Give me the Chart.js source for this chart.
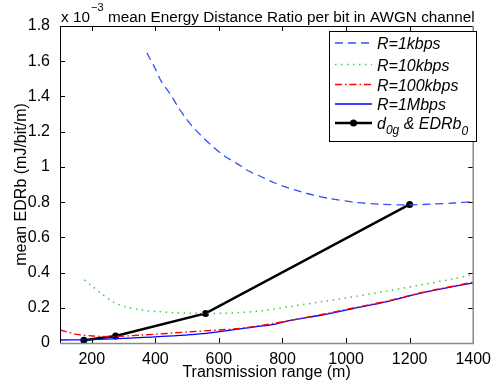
<!DOCTYPE html>
<html>
<head>
<meta charset="utf-8">
<script src="https://cdn.jsdelivr.net/npm/chart.js@4/dist/chart.umd.min.js"></script>
<style>
html,body{margin:0;padding:0;background:#fff;}
#c{display:block;}
</style>
</head>
<body>
<canvas id="c" width="498" height="387"></canvas>
<script>
// ---- data (values in units of 1e-3 mJ/bit/m) ----
const xTicks = [200, 400, 600, 800, 1000, 1200, 1400];
const yTicks = [0, 0.2, 0.4, 0.6, 0.8, 1.0, 1.2, 1.4, 1.6, 1.8];

const d1k = [373, 399, 419, 445, 471, 496, 522, 553, 584, 617, 656, 692, 733, 774, 816, 857, 898, 944, 1027, 1109, 1191, 1274, 1340, 1400];
const v1k = [1.648, 1.560, 1.484, 1.418, 1.342, 1.276, 1.219, 1.162, 1.111, 1.062, 1.020, 0.978, 0.944, 0.910, 0.882, 0.859, 0.840, 0.822, 0.799, 0.788, 0.784, 0.789, 0.795, 0.803];

const d10k = [177, 203, 229, 265, 306, 357, 409, 460, 512, 615, 718, 821, 924, 1026, 1129, 1232, 1335, 1400];
const v10k = [0.358, 0.320, 0.282, 0.235, 0.206, 0.187, 0.178, 0.172, 0.169, 0.169, 0.180, 0.206, 0.235, 0.263, 0.295, 0.329, 0.363, 0.389];

const d100k = [100, 152, 203, 254, 357, 512, 666, 774, 924, 1026, 1129, 1232, 1335, 1400];
const v100k = [0.074, 0.049, 0.040, 0.036, 0.045, 0.064, 0.083, 0.112, 0.162, 0.200, 0.238, 0.284, 0.322, 0.345];

const d1M = [100, 200, 300, 409, 560, 718, 774, 821, 924, 1026, 1129, 1232, 1335, 1400];
const v1M = [0.017, 0.019, 0.026, 0.036, 0.055, 0.093, 0.106, 0.127, 0.159, 0.197, 0.235, 0.282, 0.320, 0.341];

const d0g = [175, 275, 558, 1200];
const edrb0 = [0.015, 0.040, 0.168, 0.787];

const pts = (xs, ys) => xs.map((x, i) => ({x: x, y: ys[i]}));

const FONT = '"Liberation Sans", Arial, Helvetica, sans-serif';

const framePlugin = {
  id: 'frame',
  afterDraw(chart) {
    const ctx = chart.ctx;
    const a = chart.chartArea;
    const xs = chart.scales.x, ys = chart.scales.y;
    ctx.save();
    // inner ticks
    ctx.strokeStyle = '#000';
    ctx.lineWidth = 1;
    const L = 5;
    xTicks.forEach(v => {
      const p = Math.round(xs.getPixelForValue(v)) + 0.5;
      ctx.beginPath();
      ctx.moveTo(p, a.bottom); ctx.lineTo(p, a.bottom - L);
      ctx.moveTo(p, a.top); ctx.lineTo(p, a.top + L);
      ctx.stroke();
    });
    yTicks.forEach(v => {
      const p = Math.round(ys.getPixelForValue(v)) + 0.5;
      ctx.beginPath();
      ctx.moveTo(a.left, p); ctx.lineTo(a.left + L, p);
      ctx.moveTo(a.right, p); ctx.lineTo(a.right - L, p);
      ctx.stroke();
    });
    // frame
    ctx.lineWidth = 1;
    ctx.strokeStyle = '#000';
    ctx.beginPath();
    ctx.moveTo(a.left + 0.5, a.bottom); ctx.lineTo(a.left + 0.5, a.top + 0.5); ctx.lineTo(a.right, a.top + 0.5);
    ctx.stroke();
    ctx.lineWidth = 1.5;
    ctx.strokeStyle = '#8a8a8a';
    ctx.beginPath();
    ctx.moveTo(a.left, a.bottom + 0.5); ctx.lineTo(a.right, a.bottom + 0.5); ctx.lineTo(a.right, a.top);
    ctx.stroke();

    // title with exponent
    ctx.fillStyle = '#000';
    ctx.textBaseline = 'alphabetic';
    ctx.textAlign = 'left';
    ctx.font = '15.3px ' + FONT;
    ctx.fillText('x 10', 61, 22);
    ctx.font = '11px ' + FONT;
    ctx.fillText('\u22123', 91, 11);
    ctx.font = '15.3px ' + FONT;
    ctx.fillText('mean Energy Distance Ratio per bit in AWGN channel', 108, 22);

    // legend
    const bx = 329.5, by = 31.5, bw = 147, bh = 110;
    ctx.fillStyle = '#fff';
    ctx.fillRect(bx, by, bw, bh);
    ctx.strokeStyle = '#000';
    ctx.lineWidth = 1;
    ctx.strokeRect(bx, by, bw, bh);
    const ds = chart.data.datasets;
    const rows = [43, 64.5, 84.5, 104, 123];
    const x0 = 335, x1 = 372, tx = 377;
    ds.forEach((d, i) => {
      const y = rows[i];
      ctx.save();
      ctx.strokeStyle = d.borderColor;
      ctx.lineWidth = Math.max(1.5, d.borderWidth);
      ctx.setLineDash(d.borderDash || []);
      ctx.beginPath(); ctx.moveTo(x0, y); ctx.lineTo(x1, y); ctx.stroke();
      ctx.restore();
      if (d.pointRadius > 0) {
        ctx.fillStyle = '#000';
        ctx.beginPath(); ctx.arc((x0 + x1) / 2, y, 3.5, 0, Math.PI * 2); ctx.fill();
      }
      ctx.fillStyle = '#000';
      ctx.font = 'italic 16px ' + FONT;
      const base = rows[i] + 6;
      if (i < 4) {
        ctx.fillText(d.label, tx, base);
      } else {
        let x = tx;
        ctx.fillText('d', x, base); x += ctx.measureText('d').width;
        ctx.font = 'italic 12px ' + FONT;
        ctx.fillText('0g', x, base + 5); x += ctx.measureText('0g').width;
        ctx.font = 'italic 16px ' + FONT;
        ctx.fillText(' & EDRb', x, base); x += ctx.measureText(' & EDRb').width;
        ctx.font = 'italic 12px ' + FONT;
        ctx.fillText('0', x, base + 6);
      }
    });
    ctx.restore();
  }
};

new Chart(document.getElementById('c'), {
  type: 'line',
  data: {
    datasets: [
      { label: 'R=1kbps', data: pts(d1k, v1k), borderColor: '#3050ff', borderWidth: 1.3, borderDash: [8, 5], pointRadius: 0, tension: 0.3 },
      { label: 'R=10kbps', data: pts(d10k, v10k), borderColor: '#40cc40', borderWidth: 1.5, borderDash: [1.5, 4.5], pointRadius: 0, tension: 0.3 },
      { label: 'R=100kbps', data: pts(d100k, v100k), borderColor: '#ff0000', borderWidth: 1.4, borderDash: [7, 3, 1.5, 3], pointRadius: 0, tension: 0.3 },
      { label: 'R=1Mbps', data: pts(d1M, v1M), borderColor: '#0000ff', borderWidth: 1.3, pointRadius: 0, tension: 0.3 },
      { label: 'd0g & EDRb0', data: pts(d0g, edrb0), borderColor: '#000', backgroundColor: '#000', borderWidth: 2.5, pointRadius: 3.5, pointBackgroundColor: '#000', pointBorderWidth: 0, tension: 0 }
    ]
  },
  options: {
    responsive: false,
    animation: false,
    devicePixelRatio: 1,
    layout: { padding: { top: 26, right: 17, left: 0, bottom: 0 } },
    plugins: { legend: { display: false }, tooltip: { enabled: false }, title: { display: false } },
    scales: {
      x: {
        type: 'linear', min: 100, max: 1400,
        grid: { display: false, drawTicks: false }, border: { display: false },
        afterBuildTicks: s => { s.ticks = xTicks.map(v => ({ value: v })); },
        afterFit: s => { s.height = 44; },
        ticks: { color: '#000', font: { family: FONT, size: 16 }, padding: 7, maxRotation: 0, autoSkip: false, callback: v => String(v) },
        title: { display: true, text: 'Transmission range (m)', color: '#000', font: { family: FONT, size: 16 }, padding: { top: 0, bottom: 5 } }
      },
      y: {
        type: 'linear', min: 0, max: 1.8,
        grid: { display: false, drawTicks: false }, border: { display: false },
        afterBuildTicks: s => { s.ticks = yTicks.map(v => ({ value: v })); },
        afterFit: s => { s.width = 60; },
        ticks: { color: '#000', font: { family: FONT, size: 16 }, padding: 10, autoSkip: false, callback: v => String(+(+v).toFixed(1)) },
        title: { display: true, text: 'mean EDRb (mJ/bit/m)', color: '#000', font: { family: FONT, size: 16 }, padding: { top: 12, bottom: 4 } }
      }
    }
  },
  plugins: [framePlugin]
});
</script>
</body>
</html>
